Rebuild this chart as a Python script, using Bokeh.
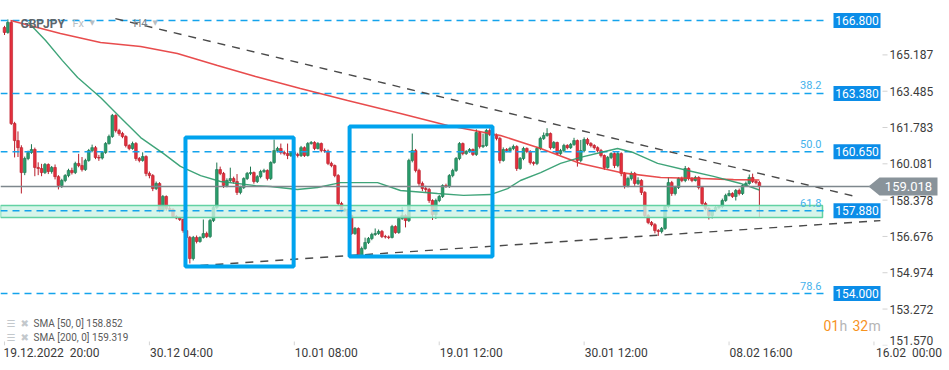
from bokeh.plotting import figure
from bokeh.models import (Range1d, LinearAxis, FixedTicker, PrintfTickFormatter, Label,
                          ColumnDataSource)
from bokeh.embed import file_html
from bokeh.resources import INLINE

# ---------------- data ----------------
symbol = "GBPJPY"
first_open = 166.47
close = [
    166.24, 166.71, 161.97, 161.17, 160.84, 159.67, 160.33, 160.61, 160.75, 159.91,
    159.86, 159.67, 160.05, 159.72, 159.91, 159.48, 159.06, 159.30, 159.53, 159.77,
    159.67, 160.10, 160.00, 159.81, 160.24, 160.70, 160.84, 160.38, 160.35, 160.61,
    161.03, 161.36, 162.35, 161.64, 161.50, 161.36, 160.94, 160.80, 161.03, 160.33,
    160.24, 160.42, 159.63, 159.53, 158.92, 159.16, 157.89, 158.55, 157.99, 157.94,
    157.61, 157.54, 157.47, 156.95, 156.63, 155.64, 156.63, 156.44, 156.63, 156.81,
    156.67, 157.42, 158.03, 159.81, 159.63, 159.06, 159.30, 159.39, 159.25, 158.74,
    158.97, 159.39, 159.63, 159.67, 159.25, 159.48, 159.72, 159.77, 159.39, 160.14,
    160.70, 160.80, 160.61, 160.56, 160.47, 160.61, 160.52, 160.47, 160.84, 160.47,
    161.03, 161.08, 160.80, 161.03, 160.70, 160.68, 160.10, 160.00, 159.53, 158.22,
    157.89, 157.94, 157.66, 156.81, 157.05, 155.78, 156.11, 156.39, 156.58, 156.77,
    156.81, 156.91, 156.67, 156.65, 156.63, 157.14, 156.86, 157.52, 157.66, 157.42,
    160.24, 160.70, 159.77, 159.16, 158.92, 158.88, 158.36, 157.70, 158.36, 158.55,
    159.06, 159.02, 159.53, 159.77, 160.33, 161.03, 160.56, 160.66, 160.75, 160.52,
    161.55, 160.89, 160.94, 161.64, 161.45, 161.41, 161.27, 160.24, 160.75, 160.70,
    160.80, 160.89, 159.86, 160.33, 160.80, 160.66, 160.14, 160.10, 160.80, 161.27,
    161.41, 161.50, 160.84, 161.08, 160.56, 160.70, 160.94, 160.84, 160.99, 161.17,
    160.24, 160.70, 161.22, 161.03, 160.94, 160.84, 160.70, 160.47, 159.91, 160.38,
    160.56, 160.00, 160.56, 159.63, 159.06, 159.39, 159.63, 159.16, 159.30, 158.74,
    157.66, 157.33, 157.23, 156.95, 156.91, 157.05, 158.08, 159.20, 158.69, 158.97,
    159.39, 159.30, 159.86, 159.39, 159.30, 159.44, 158.97, 158.22, 157.99, 157.66,
    157.89, 158.03, 158.08, 158.36, 158.60, 158.69, 158.55, 158.83, 158.69, 159.06,
    159.16, 159.44, 159.25, 159.20, 159.018,
]
high = [
    166.55, 166.85, 166.80, 162.05, 161.60, 160.95, 160.42, 160.70, 161.00, 160.84,
    160.15, 160.08, 160.12, 160.10, 159.98, 160.05, 159.55, 159.38, 159.60, 159.85,
    159.90, 160.18, 160.55, 160.40, 160.32, 160.78, 160.98, 160.92, 160.50, 160.68,
    161.10, 161.45, 162.42, 162.40, 161.72, 161.58, 161.42, 161.00, 161.12, 161.10,
    160.40, 160.62, 160.48, 159.72, 159.60, 159.25, 159.22, 158.62, 158.60, 158.10,
    158.00, 157.68, 157.60, 157.52, 157.05, 156.70, 156.70, 156.72, 156.68, 157.47,
    156.90, 157.50, 158.10, 160.14, 159.95, 159.70, 159.40, 159.90, 159.48, 159.60,
    159.05, 159.45, 159.70, 159.95, 159.72, 159.55, 159.80, 159.85, 159.82, 160.20,
    161.22, 160.88, 161.03, 160.70, 161.03, 160.68, 160.68, 160.60, 160.92, 160.90,
    161.10, 161.15, 161.14, 161.10, 161.08, 160.80, 160.75, 160.18, 160.05, 159.60,
    158.30, 158.02, 158.00, 157.70, 157.12, 157.10, 156.20, 156.62, 156.65, 156.85,
    157.05, 157.00, 156.98, 156.75, 156.72, 157.22, 157.20, 157.60, 158.05, 157.72,
    160.32, 161.50, 160.78, 159.85, 159.25, 159.05, 158.95, 158.42, 158.45, 158.62,
    159.12, 159.15, 159.60, 159.85, 160.40, 161.10, 161.08, 160.72, 160.82, 160.80,
    161.70, 161.62, 161.50, 161.72, 161.75, 161.55, 161.50, 161.35, 160.85, 160.82,
    160.88, 160.98, 160.95, 160.40, 160.88, 160.85, 160.72, 160.20, 160.88, 161.35,
    161.55, 161.75, 161.55, 161.15, 161.12, 160.78, 161.02, 161.00, 161.06, 161.30,
    161.22, 161.20, 161.32, 161.30, 161.10, 161.00, 160.90, 160.78, 160.52, 160.45,
    160.62, 160.62, 160.65, 160.62, 159.70, 159.48, 159.72, 159.70, 159.45, 159.36,
    158.80, 157.72, 157.40, 157.30, 157.02, 157.12, 158.15, 159.45, 159.28, 159.05,
    159.45, 159.48, 159.98, 159.92, 159.46, 159.52, 159.50, 159.02, 158.30, 158.05,
    157.95, 158.10, 158.15, 158.45, 158.68, 158.85, 158.75, 158.90, 158.92, 159.12,
    159.25, 159.58, 159.62, 159.32, 159.28,
]
low = [
    166.12, 166.18, 161.90, 160.38, 160.40, 158.69, 159.55, 160.25, 160.55, 159.50,
    159.55, 159.50, 159.60, 159.60, 159.62, 159.35, 158.88, 158.95, 159.22, 159.45,
    159.58, 159.60, 159.92, 159.72, 159.75, 160.18, 160.62, 160.30, 160.22, 160.28,
    160.55, 160.98, 161.30, 161.55, 161.40, 161.28, 160.85, 160.72, 160.74, 160.22,
    160.15, 160.18, 159.50, 159.40, 158.80, 158.85, 157.80, 157.82, 157.88, 157.85,
    157.55, 157.48, 157.40, 156.85, 156.50, 155.41, 155.55, 156.35, 156.38, 156.58,
    156.60, 156.60, 157.35, 157.95, 159.55, 158.95, 158.98, 159.22, 159.15, 158.62,
    158.65, 158.90, 159.32, 159.55, 159.15, 159.18, 159.40, 159.65, 159.30, 159.32,
    160.08, 160.62, 160.52, 160.48, 160.30, 160.40, 160.45, 160.38, 160.40, 160.40,
    160.42, 160.98, 160.72, 160.75, 160.62, 160.60, 160.02, 159.92, 159.45, 158.15,
    157.80, 157.82, 157.55, 156.75, 156.75, 155.72, 155.72, 156.05, 156.32, 156.50,
    156.70, 156.75, 156.60, 156.58, 156.55, 156.58, 156.80, 156.80, 157.45, 157.10,
    157.35, 160.15, 159.68, 159.05, 158.80, 158.75, 158.25, 157.45, 157.50, 158.28,
    158.48, 158.95, 158.95, 159.45, 159.70, 160.25, 160.48, 160.50, 160.60, 160.45,
    160.45, 160.80, 160.82, 160.88, 161.38, 161.32, 161.18, 160.10, 160.18, 160.62,
    160.62, 160.72, 159.75, 159.80, 160.25, 160.58, 160.05, 160.00, 160.02, 160.72,
    161.20, 161.35, 160.75, 160.78, 160.48, 160.50, 160.62, 160.76, 160.78, 160.92,
    159.95, 160.15, 160.62, 160.95, 160.85, 160.75, 160.62, 160.38, 159.80, 159.85,
    160.30, 159.88, 159.92, 159.50, 158.92, 158.98, 159.30, 159.05, 159.08, 158.62,
    157.55, 157.25, 157.15, 156.82, 156.70, 156.82, 156.98, 158.00, 158.58, 158.60,
    158.90, 159.22, 159.22, 159.30, 159.22, 159.25, 158.88, 158.12, 157.90, 157.47,
    157.52, 157.82, 157.95, 158.00, 158.30, 158.55, 158.48, 158.36, 158.60, 158.62,
    159.00, 159.10, 159.18, 159.12, 157.56,
]

# moving averages (bar index, value)
sma50_bar = [7.1, 12.2, 17.2, 21.7, 28.5, 34.4, 40.4, 47.2, 52.2, 58.2, 64.1, 74.5, 78.9,
             86.9, 92.9, 99.7, 110.7, 117.5, 128.5, 136.2, 144.2, 149.3, 153.1, 159.1,
             165.0, 170.9, 176.9, 181.9, 186.6, 193.8, 202.7, 210.4, 218.4, 224.0]
sma50_val = [166.71, 165.86, 164.92, 164.13, 163.19, 162.25, 161.31, 160.56, 159.96, 159.53,
             159.25, 159.06, 159.02, 158.88, 158.97, 159.20, 159.20, 158.83, 158.69, 158.60,
             158.64, 158.92, 159.30, 159.67, 160.10, 160.38, 160.61, 160.80, 160.61, 160.10,
             159.77, 159.49, 159.16, 158.852]
sma200_bar = [1.8, 16.6, 28.5, 40.4, 51.3, 63.2, 74.5, 87.8, 101.8, 117.5, 131.5, 147.2,
              159.1, 170.9, 182.8, 194.7, 206.5, 216.3, 224.0]
sma200_val = [166.80, 166.19, 165.77, 165.58, 165.25, 164.69, 164.17, 163.61, 163.05, 162.44,
              161.88, 161.41, 160.80, 160.10, 159.67, 159.44, 159.39, 159.34, 159.319]
sma50_last, sma200_last = 158.852, 159.319

# trend lines and highlight boxes
trend_up_bar, trend_up_val = [32.9, 252.5], [166.89, 158.55]
trend_dn_bar, trend_dn_val = [53.7, 259.9], [155.27, 157.42]
box_left = [53.7, 102.4]
box_right = [85.8, 144.8]
box_top = [161.31, 161.83]
box_bottom = [155.27, 155.74]

# horizontal levels
levels = [166.800, 163.380, 160.650, 157.880, 154.000]
fib_levels = [163.380, 160.650, 157.880, 154.000]
fib_labels = ["38.2", "50.0", "61.8", "78.6"]
zone_low, zone_high = 157.56, 158.13
last_price = 159.018

# axes
x_tick_bars = [0, 43, 86, 129, 172, 215, 258]
x_tick_labels = ["19.12.2022\u00a0\u00a020:00", "30.12 04:00", "10.01 08:00", "19.01 12:00",
                 "30.01 12:00", "08.02 16:00", "16.02\u00a0\u00a000:00"]
y_ticks = [151.570, 153.272, 154.974, 156.676, 158.378, 160.081, 161.783, 163.485, 165.187]

# ---------------- layout (reference pixel geometry) ----------------
FIG_W, FIG_H = 949, 370
FRAME_RIGHT, FRAME_BOTTOM = 940, 345
BAR0_PX, BAR_PX = 4.0, 3.37
PRICE_AT_PX20, PX_PER_UNIT = 166.8, 21.33
Y_LABEL_LEFT = 889          # left edge of price-scale labels
BOTTOM_LABEL_CLAMP = 339.5  # lowest price label is lifted above the time labels
X_LABEL_SHIFT_PX = [47.0, 32.0, 32.0, 32.0, 32.0, 32.0, 35.0]  # labels start at their tick


def bx(px):
    return (px - BAR0_PX) / BAR_PX


def py(px):
    return PRICE_AT_PX20 - (px - 20) / PX_PER_UNIT


FONT = "Roboto"
RED, RED_LINE = "#e3303d", "#b81d2a"
GREEN, GREEN_LINE = "#2a9d6c", "#1b744d"
BLUE = "#14a3ec"

p = figure(frame_width=FRAME_RIGHT, frame_height=FRAME_BOTTOM,
           x_range=Range1d(bx(0), bx(FRAME_RIGHT)), y_range=Range1d(py(FRAME_BOTTOM), py(0)),
           output_backend="svg", toolbar_location=None,
           x_axis_location=None, y_axis_location=None,
           min_border_left=0, min_border_top=0,
           min_border_right=FIG_W - FRAME_RIGHT, min_border_bottom=FIG_H - FRAME_BOTTOM,
           outline_line_color=None, background_fill_color="white", border_fill_color="white")
p.grid.visible = False

# price scale (labels drawn inside, left of the frame's right edge, as in the original)
y_tick_pos = [round(py(BOTTOM_LABEL_CLAMP), 2) if t == min(y_ticks) else t for t in y_ticks]
yaxis = LinearAxis(ticker=FixedTicker(ticks=y_tick_pos),
                   major_label_overrides={pos: f"{t:.3f}" for pos, t in zip(y_tick_pos, y_ticks)},
                   formatter=PrintfTickFormatter(format="%.3f"),
                   major_label_text_font=FONT, major_label_text_font_size="12px",
                   major_label_text_color="#3c3c3c", axis_line_color=None,
                   major_tick_line_color=None, major_tick_out=0, major_tick_in=0,
                   minor_tick_line_color=None, major_label_standoff=Y_LABEL_LEFT - FRAME_RIGHT)
p.add_layout(yaxis, "right")

# time scale (labels start at their tick, so the label centres sit right of the tick)
x_label_pos = [round(b + s / BAR_PX, 3) for b, s in zip(x_tick_bars, X_LABEL_SHIFT_PX)]
xaxis = LinearAxis(ticker=FixedTicker(ticks=x_label_pos),
                   major_label_overrides={pos: s for pos, s in zip(x_label_pos, x_tick_labels)},
                   major_label_text_font=FONT, major_label_text_font_size="12px",
                   major_label_text_color="#3a3a3a",
                   axis_line_color=None, major_tick_line_color=None,
                   major_tick_in=0, major_tick_out=0, minor_tick_line_color=None,
                   major_label_standoff=0)
p.add_layout(xaxis, "below")

# small tick marks
p.segment(x0=[bx(882)] * len(y_ticks), x1=[bx(887)] * len(y_ticks), y0=y_ticks, y1=y_ticks,
          line_color="#d2d2d2", line_width=1)
p.segment(x0=x_tick_bars, x1=x_tick_bars, y0=[py(341)] * len(x_tick_bars),
          y1=[py(345)] * len(x_tick_bars), line_color="#d5d5d5", line_width=1)

# candles
n = len(close)
opens = [first_open] + close[:-1]
is_up = [c >= o for o, c in zip(opens, close)]
src = ColumnDataSource(dict(
    x=list(range(n)), h=high, l=low,
    top=[max(o, c) for o, c in zip(opens, close)],
    bot=[min(o, c) for o, c in zip(opens, close)],
    fill=[GREEN if u else RED for u in is_up],
    edge=[GREEN_LINE if u else RED_LINE for u in is_up],
))
p.segment(x0="x", y0="h", x1="x", y1="l", source=src, line_color="edge", line_width=1)
p.vbar(x="x", width=0.8, top="top", bottom="bot", source=src,
       fill_color="fill", line_color="edge", line_width=0.6)

# support zone
LEVEL_END = bx(826)
p.quad(left=[bx(0)], right=[bx(822)], bottom=[zone_low], top=[zone_high],
       fill_color="#cdf3e4", fill_alpha=0.8, line_color="#62d2a3", line_width=1.5)

# horizontal dashed levels
p.segment(x0=[bx(0)] * len(levels), x1=[LEVEL_END] * len(levels), y0=levels, y1=levels,
          line_color=BLUE, line_width=1.4, line_dash="7 5")

# moving averages
p.line(sma200_bar, sma200_val, line_color="#e5393a", line_width=1.6, line_alpha=0.9)
p.line(sma50_bar, sma50_val, line_color="#2a9a6a", line_width=1.4, line_alpha=0.9)

# trend lines
p.line(trend_up_bar, trend_up_val, line_color="#4a4a4a", line_width=1.4, line_dash="8 7")
p.line(trend_dn_bar, trend_dn_val, line_color="#4a4a4a", line_width=1.4, line_dash="8 7")

# last price line
p.segment(x0=[bx(0)], x1=[bx(878)], y0=[last_price], y1=[last_price],
          line_color="#7e878d", line_width=1.5)

# highlight boxes
p.quad(left=box_left, right=box_right, top=box_top, bottom=box_bottom,
       fill_color=None, line_color="#00a3ee", line_width=4)

# level price boxes
BOX_W = 47 / BAR_PX
BOX_H = 15 / PX_PER_UNIT
p.rect(x=[bx(856.5)] * len(levels), y=levels, width=BOX_W, height=BOX_H,
       fill_color="#0b8de8", line_color=None)
for lv in levels:
    p.add_layout(Label(x=bx(856.5), y=lv, text=f"{lv:.3f}", text_align="center",
                       text_baseline="middle", text_font=FONT, text_font_size="12px",
                       text_color="white"))
for lv, fl in zip(fib_levels, fib_labels):
    p.add_layout(Label(x=bx(821), y=lv + 8 / PX_PER_UNIT, text=fl, text_align="right",
                       text_baseline="middle", text_font=FONT, text_font_size="11px",
                       text_color="#45b2ec"))

# last price tag
tag_half = 9 / PX_PER_UNIT
p.patch(x=[bx(868), bx(879), bx(937), bx(937), bx(879)],
        y=[last_price, last_price + tag_half, last_price + tag_half,
           last_price - tag_half, last_price - tag_half],
        fill_color="#89939a", line_color=None)
p.add_layout(Label(x=bx(908), y=last_price, text=f"{last_price:.3f}", text_align="center",
                   text_baseline="middle", text_font=FONT, text_font_size="13px",
                   text_color="white"))


def lab(x, y, text, size, color, style="normal", font=FONT, align="left"):
    p.add_layout(Label(x=bx(x), y=py(y), text=text, text_align=align, text_baseline="middle",
                       text_font=font, text_font_size=size, text_color=color,
                       text_font_style=style))


# title
lab(20, 23, symbol, "12px", "#5d656b", "bold")
lab(72, 23, "Fx", "11px", "#b7bec3")
lab(89, 22, "▼", "7px", "#b7bec3", font="DejaVu Sans")
lab(133, 23, "H4", "11px", "#7d858b")
lab(152, 22, "▼", "7px", "#b7bec3", font="DejaVu Sans")

# indicator legend
for yy, txt in [(323, f"SMA [50, 0] {sma50_last:.3f}"), (337, f"SMA [200, 0] {sma200_last:.3f}")]:
    lab(6, yy, "☰", "10px", "#c3c8cc", font="DejaVu Sans")
    lab(20, yy, "✖", "10px", "#c3c8cc", font="DejaVu Sans")
    lab(33, yy, txt, "10px", "#5a5a5a")

# candle countdown
lab(823, 325, "01", "14px", "#f7931e")
lab(839, 325, "h", "14px", "#b5b5b5")
lab(852, 325, "32", "14px", "#f7931e")
lab(868, 325, "m", "14px", "#b5b5b5")

open("out.html", "w").write(file_html(p, INLINE))
